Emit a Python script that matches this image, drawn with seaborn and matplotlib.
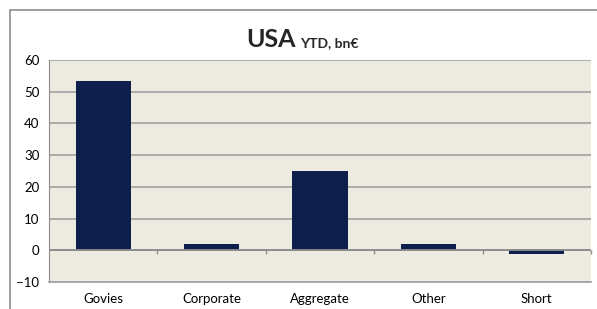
import numpy as np
import pandas as pd
import matplotlib
matplotlib.use("Agg")
import matplotlib.pyplot as plt
import seaborn as sns
from matplotlib.patches import Rectangle

# --- Data ---
categories = ["Govies", "Corporate", "Aggregate", "Other", "Short"]
flows = [53.3, 1.9, 24.9, 1.9, -1.3]
y_ticks = [-10, 0, 10, 20, 30, 40, 50, 60]

df = pd.DataFrame({"category": categories, "flow": flows})

# --- Style ---
sns.set_style("white")
plt.rcParams["font.family"] = ["Lato", "DejaVu Sans"]

BAR_COLOR = "#0D1F4A"
BG_COLOR = "#EDEBE0"
GRID_COLOR = "#A6A6A6"
AXIS_COLOR = "#8C8C8C"

W, H = 597, 309
fig = plt.figure(figsize=(W / 100, H / 100), dpi=100, facecolor="white")
ax = fig.add_axes([49 / W, (H - 282) / H, (591 - 49) / W, (282 - 60) / H])

# outer chart border (runs off the image to the right and bottom)
fig.patches.append(Rectangle((10 / W, -0.1), 1.2, (H - 10) / H + 0.1,
                             transform=fig.transFigure, fill=False,
                             edgecolor=AXIS_COLOR, lw=1.2))

sns.barplot(data=df, x="category", y="flow", color=BAR_COLOR, width=0.51,
            saturation=1, linewidth=0, ax=ax, zorder=3)

ax.set_facecolor(BG_COLOR)
ax.set_ylim(y_ticks[0], y_ticks[-1])
ax.set_xlim(-0.5, len(categories) - 0.5)
ax.set_yticks(y_ticks)
ax.yaxis.grid(True, color=GRID_COLOR, lw=1.3, zorder=0)
ax.set_axisbelow(True)
ax.set_xlabel("")
ax.set_ylabel("")

for side in ["top", "right"]:
    ax.spines[side].set_visible(False)
ax.spines["left"].set_color(AXIS_COLOR)
ax.spines["bottom"].set_color(GRID_COLOR)
ax.spines["bottom"].set_linewidth(1.3)

ax.tick_params(axis="y", direction="out", length=5, color=AXIS_COLOR,
               labelsize=9.5, pad=2, labelcolor="#000000")
ax.tick_params(axis="x", length=0, labelsize=9.5, pad=8, labelcolor="#000000")

# zero line with category boundary tick marks
ax.axhline(0, color=AXIS_COLOR, lw=1.3, zorder=4)
zero_loc = (0 - y_ticks[0]) / (y_ticks[-1] - y_ticks[0])
sec = ax.secondary_xaxis(zero_loc)
sec.set_xticks(np.arange(len(categories)) + 0.5)
sec.set_xticklabels([])
sec.tick_params(direction="out", length=3, color=AXIS_COLOR, width=1)
sec.spines["bottom"].set_visible(False)

# title
fig.text(296 / W, (H - 47) / H, "USA", ha="right", va="baseline",
         fontsize=18, fontweight="bold")
fig.text(300 / W, (H - 47) / H, "YTD, bn€", ha="left", va="baseline",
         fontsize=10, fontweight="bold")

fig.savefig("out.png", dpi=100, facecolor="white")
